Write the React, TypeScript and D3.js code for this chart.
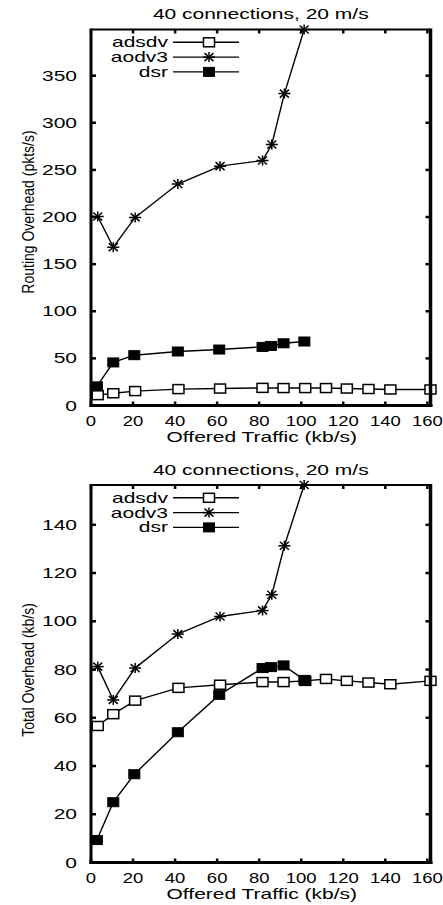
import React from "react";
import * as d3 from "d3";

// ---------- data ----------
const title = "40 connections, 20 m/s";
const xLabel = "Offered Traffic (kb/s)";
const seriesNames = ["adsdv", "aodv3", "dsr"];

const xTicks = [0, 20, 40, 60, 80, 100, 120, 140, 160];
const routingTicks = [0, 50, 100, 150, 200, 250, 300, 350];
const totalTicks = [0, 20, 40, 60, 80, 100, 120, 140];

const adsdvX = [3.2, 10.6, 21, 41.6, 61.4, 81.6, 91.6, 101.9, 111.8, 121.7, 132, 142.4, 161.5];
const aodvX = [3.2, 10.6, 21, 41.3, 61.4, 81.6, 86, 92, 101.4];
const dsrX = [2.8, 10.6, 20.6, 41.3, 61, 81.6, 85.6, 91.6, 101.5];

const routingAdsdv = [11, 13, 15.3, 17.4, 18, 18.7, 18.5, 18.5, 18.5, 18, 17.5, 17, 17];
const routingAodv3 = [200.6, 168, 199.6, 235, 254, 260, 277, 331, 399];
const routingDsr = [20.3, 45.7, 53.4, 57.3, 59.4, 62.2, 63.2, 66, 67.9];

const totalAdsdv = [56.6, 61.5, 67.1, 72.4, 73.7, 74.8, 74.8, 75.3, 76.1, 75.3, 74.6, 73.9, 75.3];
const totalAodv3 = [81.2, 67.4, 80.6, 94.7, 102, 104.5, 111, 131.3, 156.5];
const totalDsr = [9.3, 25, 36.6, 54, 69.5, 80.6, 81, 81.7, 75.7];

// ---------- style ----------
const FONT = "'Liberation Sans', Arial, Helvetica, sans-serif";
const FS = 14;
const SX = 1.5;
const TICK_SX = 1.32;
const X0 = 91;
const X1 = 430.5;
const XMAX = 161.5;

type Pt = [number, number];

function zip(xs: number[], ys: number[]): Pt[] {
  return xs.map((x, i) => [x, ys[i]] as Pt);
}

function Txt({
  x,
  y,
  anchor,
  sx = SX,
  children,
}: {
  x: number;
  y: number;
  anchor: string;
  sx?: number;
  children: React.ReactNode;
}) {
  return (
    <text
      transform={`translate(${x},${y}) scale(${sx},1)`}
      textAnchor={anchor}
      fontFamily={FONT}
      fontSize={FS}
      fill="#000"
    >
      {children}
    </text>
  );
}

function Marker({ kind, x, y }: { kind: number; x: number; y: number }) {
  const w = 5.5;
  const h = 4.5;
  if (kind === 0) {
    return <rect x={x - w} y={y - h} width={2 * w} height={2 * h} fill="#fff" stroke="#000" strokeWidth={1.5} />;
  }
  if (kind === 2) {
    return <rect x={x - w} y={y - h} width={2 * w} height={2 * h} fill="#000" stroke="#000" strokeWidth={1} />;
  }
  const sw = 6;
  const sh = 5;
  return (
    <g stroke="#000" strokeWidth={1.5}>
      <line x1={x - sw} y1={y} x2={x + sw} y2={y} />
      <line x1={x} y1={y - sh} x2={x} y2={y + sh} />
      <line x1={x - sw * 0.75} y1={y - sh * 0.8} x2={x + sw * 0.75} y2={y + sh * 0.8} />
      <line x1={x - sw * 0.75} y1={y + sh * 0.8} x2={x + sw * 0.75} y2={y - sh * 0.8} />
    </g>
  );
}

function Panel({
  top,
  bottom,
  yMax,
  yTicks,
  yLabel,
  yLabelY,
  series,
}: {
  top: number;
  bottom: number;
  yMax: number;
  yTicks: number[];
  yLabel: string;
  yLabelY: number;
  series: Pt[][];
}) {
  const x = d3.scaleLinear().domain([0, XMAX]).range([X0, X1]);
  const y = d3.scaleLinear().domain([0, yMax]).range([bottom, top]);
  const line = d3
    .line<Pt>()
    .x((d) => x(d[0]))
    .y((d) => y(d[1]));
  const cx = (X0 + X1) / 2;
  const legX = 168;
  const legRow0 = top + 12.8;
  const legStep = 14.8;
  return (
    <g>
      <defs>
        <clipPath id={`clip${top}`}>
          <rect x={X0 - 8} y={top - 8} width={X1 - X0 + 16} height={bottom - top + 16} />
        </clipPath>
      </defs>
      {/* title */}
      <Txt x={cx} y={top - 10.5} anchor="middle">
        {title}
      </Txt>
      {/* series */}
      <g clipPath={`url(#clip${top})`}>
        {series.map((s, i) => (
          <path key={`l${i}`} d={line(s) || ""} fill="none" stroke="#000" strokeWidth={1.4} />
        ))}
        {series.map((s, i) =>
          s.map((d, j) => <Marker key={`m${i}-${j}`} kind={i} x={x(d[0])} y={y(d[1])} />)
        )}
      </g>
      {/* ticks */}
      <g stroke="#000" strokeWidth={2.5}>
        {xTicks.map((t) => (
          <g key={`xt${t}`}>
            <line x1={x(t)} x2={x(t)} y1={bottom} y2={bottom - 4} />
            <line x1={x(t)} x2={x(t)} y1={top} y2={top + 4} />
          </g>
        ))}
        {yTicks.map((t) => (
          <g key={`yt${t}`}>
            <line x1={X0} x2={X0 + 5} y1={y(t)} y2={y(t)} />
            <line x1={X1} x2={X1 - 5} y1={y(t)} y2={y(t)} />
          </g>
        ))}
      </g>
      {/* frame */}
      <line x1={X0} x2={X1} y1={top} y2={top} stroke="#000" strokeWidth={2} />
      <line x1={X0 - 1.5} x2={X1 + 2} y1={bottom} y2={bottom} stroke="#000" strokeWidth={3} />
      <line x1={X0} x2={X0} y1={top - 1} y2={bottom + 1.5} stroke="#000" strokeWidth={3} />
      <line x1={X1} x2={X1} y1={top - 1} y2={bottom + 1.5} stroke="#000" strokeWidth={3.5} />
      {/* tick labels */}
      {xTicks.map((t) => (
        <Txt key={`xl${t}`} x={x(t)} y={bottom + 20} anchor="middle" sx={TICK_SX}>
          {t}
        </Txt>
      ))}
      {yTicks.map((t) => (
        <Txt key={`yl${t}`} x={77} y={y(t) + 5} anchor="end">
          {t}
        </Txt>
      ))}
      {/* axis labels */}
      <Txt x={cx + 1} y={bottom + 36} anchor="middle">
        {xLabel}
      </Txt>
      <text
        transform={`translate(34,${yLabelY}) rotate(-90) scale(1,1.2)`}
        textAnchor="middle"
        fontFamily={FONT}
        fontSize={14}
        fill="#000"
      >
        {yLabel}
      </text>
      {/* legend */}
      {seriesNames.map((n, i) => {
        const ly = legRow0 + i * legStep;
        return (
          <g key={`lg${n}`}>
            <Txt x={legX} y={ly + 5} anchor="end">
              {n}
            </Txt>
            <line x1={legX + 5} x2={legX + 71} y1={ly} y2={ly} stroke="#000" strokeWidth={1.4} />
            <Marker kind={i} x={legX + 41} y={ly} />
          </g>
        );
      })}
    </g>
  );
}

export default function App() {
  const routing: Pt[][] = [zip(adsdvX, routingAdsdv), zip(aodvX, routingAodv3), zip(dsrX, routingDsr)];
  const total: Pt[][] = [zip(adsdvX, totalAdsdv), zip(aodvX, totalAodv3), zip(dsrX, totalDsr)];
  return (
    <svg
      width={443}
      height={905}
      viewBox="0 0 443 905"
      style={{ position: "absolute", left: 0, top: 0, background: "#fff" }}
    >
      <rect x={0} y={0} width={443} height={905} fill="#fff" />
      <Panel
        top={29.5}
        bottom={405.5}
        yMax={399}
        yTicks={routingTicks}
        yLabel="Routing Overhead (pkts/s)"
        yLabelY={212}
        series={routing}
      />
      <Panel
        top={485}
        bottom={862.5}
        yMax={156.5}
        yTicks={totalTicks}
        yLabel="Total Overhead (kb/s)"
        yLabelY={670}
        series={total}
      />
    </svg>
  );
}
